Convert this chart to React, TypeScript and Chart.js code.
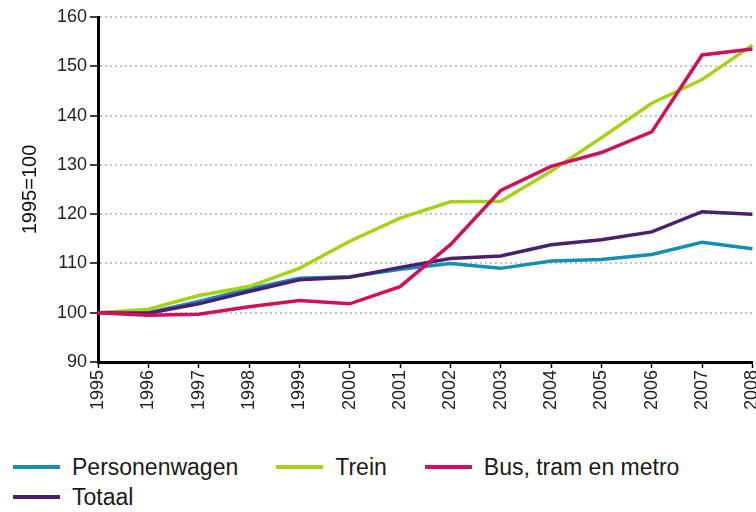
import React, { useEffect, useRef } from "react";
import { Chart, registerables } from "chart.js";

Chart.register(...registerables);

const years = ["1995","1996","1997","1998","1999","2000","2001","2002","2003","2004","2005","2006","2007","2008"];
const personenwagen = [100, 100, 102.3, 104.8, 107, 107.3, 108.8, 110, 109, 110.5, 110.8, 111.8, 114.3, 113];
const trein = [100, 100.7, 103.5, 105.3, 109, 114.5, 119.2, 122.5, 122.6, 128.7, 135.5, 142.5, 147.3, 154.3];
const bus = [100, 99.5, 99.7, 101.2, 102.5, 101.8, 105.3, 113.8, 124.8, 129.7, 132.5, 136.7, 152.3, 153.5];
const totaal = [100, 99.9, 101.8, 104.3, 106.7, 107.2, 109.2, 111, 111.5, 113.8, 114.8, 116.4, 120.5, 120];

const yTitle = "1995=100";
const yMin = 90;
const yMax = 160;
const yStep = 10;

const series = [
  { label: "Personenwagen", data: personenwagen, color: "#168db5", order: 3 },
  { label: "Trein", data: trein, color: "#a6d216", order: 2 },
  { label: "Bus, tram en metro", data: bus, color: "#d1105c", order: 0 },
  { label: "Totaal", data: totaal, color: "#4a1f6e", order: 1 },
];

const FONT = "'Liberation Sans', Arial, Helvetica, sans-serif";

export default function App() {
  const ref = useRef<HTMLCanvasElement | null>(null);

  useEffect(() => {
    if (!ref.current) return;
    const chart = new Chart(ref.current, {
      type: "line",
      data: {
        labels: years,
        datasets: series.map((s) => ({
          label: s.label,
          data: s.data,
          borderColor: s.color,
          backgroundColor: s.color,
          borderWidth: 3.5,
          pointRadius: 0,
          tension: 0,
          order: s.order,
          fill: false,
        })),
      },
      options: {
        animation: false,
        responsive: false,
        maintainAspectRatio: false,
        layout: { padding: { top: 17, left: 0, right: 0, bottom: 0 } },
        plugins: {
          legend: { display: false },
          tooltip: { enabled: false },
        },
        scales: {
          x: {
            type: "category",
            offset: false,
            border: { color: "#000", width: 3 },
            grid: {
              display: true,
              drawOnChartArea: false,
              tickLength: 6,
              tickColor: "#000",
              tickWidth: 1.5,
            },
            ticks: {
              minRotation: 90,
              maxRotation: 90,
              autoSkip: false,
              padding: 2,
              color: "#222",
              font: { family: FONT, size: 18 },
            },
            afterFit: (s: any) => {
              s.height = 68;
            },
          },
          y: {
            min: yMin,
            max: yMax,
            border: { color: "#000", width: 3, dash: [2, 3] },
            grid: {
              color: "#c4c4c4",
              lineWidth: 2,
              tickBorderDash: [],
              tickColor: "#000",
              tickWidth: 1.5,
              tickLength: 8,
            },
            ticks: {
              stepSize: yStep,
              padding: 3,
              color: "#222",
              font: { family: FONT, size: 18 },
            },
            title: {
              display: true,
              text: yTitle,
              color: "#111",
              font: { family: FONT, size: 20 },
              padding: { top: 18, bottom: 0 },
            },
            afterFit: (s: any) => {
              s.width = 98;
            },
          },
        },
      },
    });
    return () => chart.destroy();
  }, []);

  return (
    <div
      style={{
        position: "fixed",
        left: 0,
        top: 0,
        width: 756,
        height: 512,
        overflow: "hidden",
        background: "#fff",
      }}
    >
      <canvas
        ref={ref}
        width={776}
        height={430}
        style={{ position: "absolute", left: 0, top: 0, width: 776, height: 430 }}
      />
      <div
        style={{
          position: "absolute",
          left: 13,
          top: 452,
          width: 730,
          display: "flex",
          flexWrap: "wrap",
          fontFamily: FONT,
          fontSize: 23,
          color: "#1a1a1a",
        }}
      >
        {series.map((s) => (
          <div
            key={s.label}
            style={{ display: "flex", alignItems: "center", height: 30, marginRight: 38 }}
          >
            <span
              style={{
                display: "inline-block",
                width: 47,
                height: 4,
                background: s.color,
                marginRight: 12,
              }}
            />
            <span style={{ whiteSpace: "nowrap" }}>{s.label}</span>
          </div>
        ))}
      </div>
    </div>
  );
}
